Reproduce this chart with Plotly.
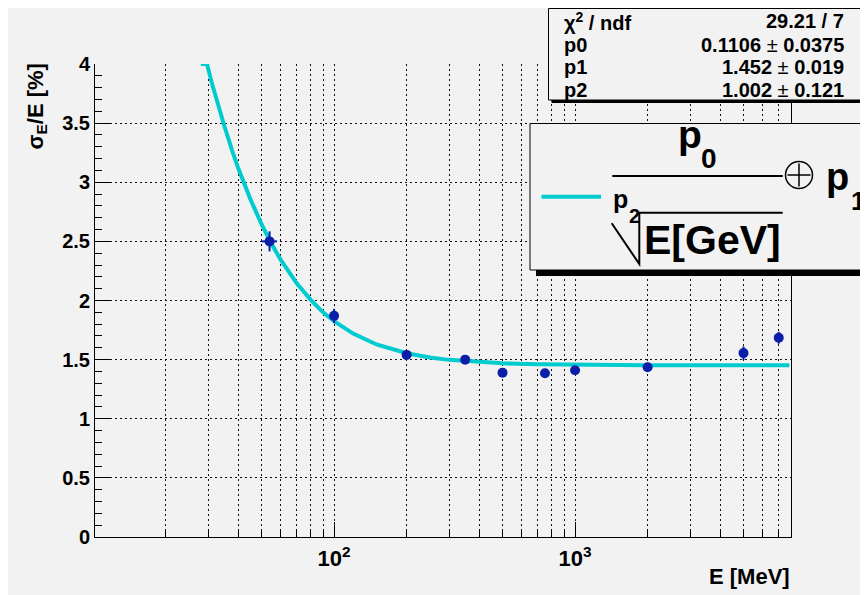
import plotly.graph_objects as go

# ---------------- data ----------------
E_MeV = [54, 100, 200, 350, 500, 750, 1000, 2000, 5000, 7000]
sigma_pct = [2.50, 1.87, 1.54, 1.50, 1.39, 1.385, 1.41, 1.435, 1.555, 1.685]
sigma_err = [0.085, 0.06, 0.035, 0.03, 0.025, 0.025, 0.025, 0.03, 0.056, 0.05]
E_err = [4, 0, 0, 0, 0, 0, 0, 0, 0, 0]

fit_E = [28, 29.7, 31, 33, 35, 38, 40, 45, 50, 55, 60, 70, 80, 90, 100, 120, 150,
         200, 250, 300, 400, 500, 700, 1000, 2000, 4000, 7750]
fit_y = [4.0, 4.0, 3.85, 3.65, 3.48, 3.25, 3.12, 2.855, 2.645, 2.48, 2.345, 2.145,
         2.005, 1.90, 1.825, 1.72, 1.628, 1.554, 1.518, 1.498, 1.478, 1.469, 1.461,
         1.456, 1.453, 1.452, 1.452]

x_major = [100, 1000]
x_major_text = ["10<sup>2</sup>", "10<sup>3</sup>"]
x_minor = [20, 30, 40, 50, 60, 70, 80, 90, 200, 300, 400, 500, 600, 700, 800, 900,
           2000, 3000, 4000, 5000, 6000, 7000]

stats_rows = [("χ<sup>2</sup> / ndf", "<b>29.21 / 7</b>"),
              ("p0", "<b>0.1106</b> ± <b>0.0375</b>"),
              ("p1", "<b>1.452</b> ± <b>0.019</b>"),
              ("p2", "<b>1.002</b> ± <b>0.121</b>")]

# ---------------- geometry (page pixels; figure sits at 8,8 in the page) ----------------
W, H = 860, 587
L, R, T, B = 95, 791, 64, 537          # plot frame in page pixels
OFF = 8
def fx(px):
    return (px - L) / (R - L)
def fy(py):
    return (B - py) / (B - T)

BG = "#f2f2f2"
BLUE = "#0a1ea8"
CYAN = "#00ccd0"
FONT = "Liberation Sans"

fig = go.Figure()
fig.add_trace(go.Scatter(
    x=fit_E, y=fit_y, mode="lines",
    line=dict(color=CYAN, width=4), hoverinfo="skip"))
fig.add_trace(go.Scatter(
    x=E_MeV, y=sigma_pct, mode="markers",
    marker=dict(color=BLUE, size=10),
    error_y=dict(type="data", array=sigma_err, color=BLUE, thickness=2, width=0),
    error_x=dict(type="data", array=E_err, color=BLUE, thickness=2, width=0)))

grid_dash = "2px,3px"
fig.update_xaxes(
    type="log", range=[1.008, 3.896],
    tickmode="array", tickvals=x_major, ticktext=x_major_text,
    ticks="inside", ticklen=15, tickcolor="black", tickwidth=1,
    showgrid=True, gridcolor="#111", griddash=grid_dash, gridwidth=1,
    showline=True, linecolor="black", linewidth=1, mirror=False,
    tickfont=dict(family=FONT, size=22, color="black", weight="bold"),
    ticklabelstandoff=2,
    minor=dict(tickmode="array", tickvals=x_minor, ticks="inside", ticklen=8,
               tickcolor="black", showgrid=True, gridcolor="#111",
               griddash=grid_dash, gridwidth=1),
    zeroline=False)
fig.update_yaxes(
    range=[0, 4], dtick=0.5, tick0=0,
    ticks="inside", ticklen=15, tickcolor="black", tickwidth=1,
    showgrid=True, gridcolor="#111", griddash=grid_dash, gridwidth=1,
    showline=True, linecolor="black", linewidth=1, mirror=True,
    tickfont=dict(family=FONT, size=20, color="black", weight="bold"),
    minor=dict(dtick=0.1, ticks="inside", ticklen=7, tickcolor="black", showgrid=False),
    zeroline=False)

shapes = []
annotations = []

# stats box
shapes.append(dict(type="rect", xref="paper", yref="paper",
                   x0=fx(551.5), x1=fx(865.5), y0=fy(11.5), y1=fy(103),
                   fillcolor="black", line=dict(width=0), layer="above"))
shapes.append(dict(type="rect", xref="paper", yref="paper",
                   x0=fx(548.5), x1=fx(862.5), y0=fy(8.5), y1=fy(100),
                   fillcolor=BG, line=dict(color="black", width=1), layer="above"))
row_y = [21, 44.5, 67.5, 90.5]
for (lab, val), yy in zip(stats_rows, row_y):
    annotations.append(dict(xref="paper", yref="paper", x=fx(562), y=fy(yy),
                            xanchor="left", yanchor="middle", showarrow=False,
                            text="<b>" + lab + "</b>",
                            font=dict(family=FONT, size=20, color="black")))
    annotations.append(dict(xref="paper", yref="paper", x=fx(846), y=fy(yy),
                            xanchor="right", yanchor="middle", showarrow=False,
                            text=val, font=dict(family=FONT, size=20, color="black")))

# legend box
shapes.append(dict(type="rect", xref="paper", yref="paper",
                   x0=fx(536), x1=fx(867), y0=fy(129), y1=fy(276),
                   fillcolor="black", line=dict(width=0), layer="above"))
shapes.append(dict(type="rect", xref="paper", yref="paper",
                   x0=fx(530), x1=fx(861), y0=fy(123.5), y1=fy(270),
                   fillcolor=BG, line=dict(color="black", width=1), layer="above"))
# legend line sample
shapes.append(dict(type="line", xref="paper", yref="paper",
                   x0=fx(541.5), x1=fx(601), y0=fy(196.7), y1=fy(196.7),
                   line=dict(color=CYAN, width=4), layer="above"))
# fraction bar
shapes.append(dict(type="line", xref="paper", yref="paper",
                   x0=fx(612.3), x1=fx(782.7), y0=fy(176), y1=fy(176),
                   line=dict(color="black", width=2), layer="above"))
# radical sign
rad = [(611.7, 223.3), (639.3, 264), (639.3, 212.7), (782.7, 212.7)]
path = "M " + " L ".join(f"{fx(a):.5f},{fy(b):.5f}" for a, b in rad)
shapes.append(dict(type="path", xref="paper", yref="paper", path=path,
                   line=dict(color="black", width=2), layer="above"))
# oplus
cx, cy, r = 799, 175, 13.5
shapes.append(dict(type="circle", xref="paper", yref="paper",
                   x0=fx(cx - r), x1=fx(cx + r), y0=fy(cy - r), y1=fy(cy + r),
                   line=dict(color="black", width=1.5), layer="above"))
shapes.append(dict(type="line", xref="paper", yref="paper",
                   x0=fx(cx - r + 2), x1=fx(cx + r - 2), y0=fy(cy), y1=fy(cy),
                   line=dict(color="black", width=1.5), layer="above"))
shapes.append(dict(type="line", xref="paper", yref="paper",
                   x0=fx(cx), x1=fx(cx), y0=fy(cy - r + 2), y1=fy(cy + r - 2),
                   line=dict(color="black", width=1.5), layer="above"))

def txt(s, x, y, size, anchor="center"):
    annotations.append(dict(xref="paper", yref="paper", x=fx(x), y=fy(y),
                            xanchor=anchor, yanchor="middle", showarrow=False,
                            text="<b>" + s + "</b>",
                            font=dict(family=FONT, size=size, color="black")))

txt("p", 690.3, 134, 39)
txt("0", 709.2, 158.3, 28)
txt("p", 837.5, 177, 38)
txt("1", 858, 201, 26)
txt("p", 620.8, 199.3, 25)
txt("2", 634, 216, 20)
txt("E[GeV]", 712.2, 240.3, 41)

# axis titles
annotations.append(dict(xref="paper", yref="paper", x=fx(792), y=fy(576),
                        xanchor="right", yanchor="middle", showarrow=False,
                        text="<b>E [MeV]</b>",
                        font=dict(family=FONT, size=22, color="black")))
annotations.append(dict(xref="paper", yref="paper", x=fx(36), y=fy(106.5),
                        xanchor="center", yanchor="middle", showarrow=False,
                        textangle=-90,
                        text="<b>σ<sub>E</sub>/E [%]</b>",
                        font=dict(family=FONT, size=22, color="black")))

fig.update_layout(
    width=W, height=H,
    margin=dict(l=L - OFF, r=W - (R - OFF), t=T - OFF, b=H - (B - OFF), pad=0),
    paper_bgcolor=BG, plot_bgcolor=BG,
    showlegend=False,
    shapes=shapes, annotations=annotations)

fig.write_html("out.html", post_script="document.body.style.overflow='hidden';")
